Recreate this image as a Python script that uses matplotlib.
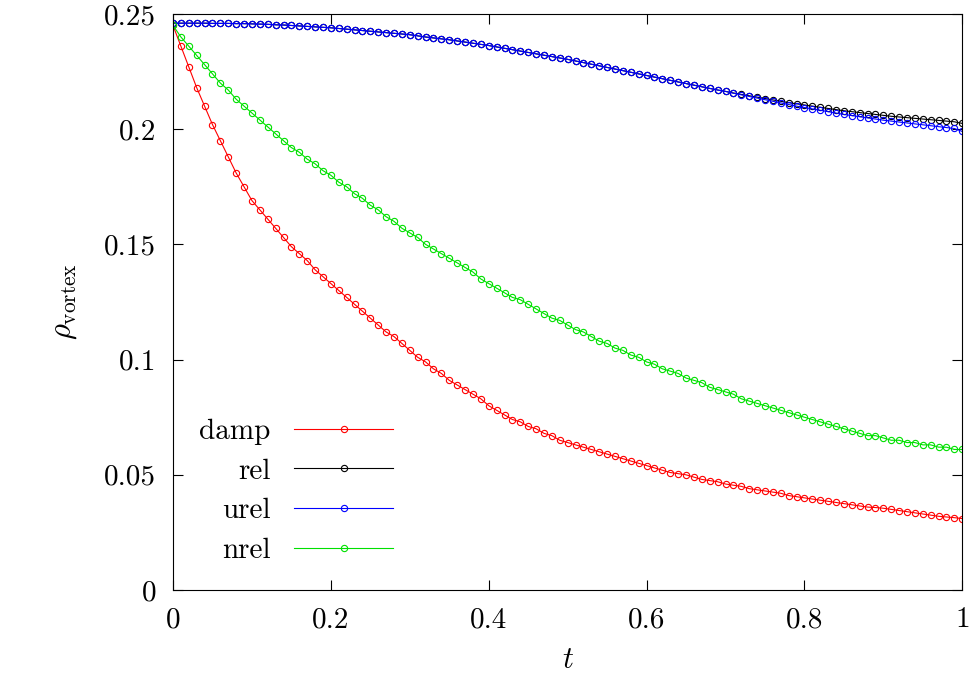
import matplotlib
matplotlib.use('Agg')
import matplotlib.pyplot as plt

plt.rcParams['font.family'] = 'cmr10'
plt.rcParams['mathtext.fontset'] = 'cm'
plt.rcParams['axes.formatter.use_mathtext'] = True

t = [i / 100 for i in range(101)]

damp = [0.245, 0.236, 0.227, 0.218, 0.210, 0.202, 0.195, 0.188, 0.181, 0.175, 0.169,
        0.165, 0.161, 0.157, 0.153, 0.149, 0.146, 0.143, 0.139, 0.136, 0.133,
        0.130, 0.127, 0.124, 0.121, 0.118, 0.115, 0.112, 0.110, 0.107, 0.104,
        0.101, 0.099, 0.096, 0.094, 0.091, 0.089, 0.087, 0.085, 0.083, 0.080,
        0.078, 0.076, 0.074, 0.073, 0.071, 0.070, 0.068, 0.067, 0.065, 0.064,
        0.063, 0.062, 0.061, 0.060, 0.059, 0.058, 0.057, 0.056, 0.055, 0.054,
        0.053, 0.052, 0.051, 0.0505, 0.050, 0.049, 0.048, 0.0475, 0.047, 0.046,
        0.0455, 0.045, 0.044, 0.0435, 0.043, 0.0425, 0.042, 0.041, 0.0405, 0.040,
        0.0395, 0.039, 0.0385, 0.038, 0.0375, 0.037, 0.0365, 0.036, 0.0358, 0.0355,
        0.035, 0.0345, 0.034, 0.0335, 0.033, 0.0325, 0.032, 0.0317, 0.0314, 0.031]

nrel = [0.245, 0.240, 0.236, 0.232, 0.228, 0.224, 0.220, 0.217, 0.213, 0.210, 0.207,
        0.204, 0.201, 0.198, 0.195, 0.192, 0.190, 0.187, 0.185, 0.182, 0.180,
        0.177, 0.175, 0.172, 0.170, 0.167, 0.165, 0.162, 0.160, 0.157, 0.155,
        0.153, 0.150, 0.148, 0.146, 0.144, 0.142, 0.140, 0.138, 0.135, 0.133,
        0.131, 0.129, 0.127, 0.126, 0.124, 0.122, 0.120, 0.118, 0.117, 0.115,
        0.113, 0.112, 0.110, 0.108, 0.107, 0.105, 0.104, 0.102, 0.101, 0.099,
        0.098, 0.096, 0.095, 0.094, 0.092, 0.091, 0.090, 0.088, 0.087, 0.086,
        0.085, 0.083, 0.082, 0.081, 0.080, 0.079, 0.078, 0.077, 0.076, 0.075,
        0.074, 0.073, 0.072, 0.071, 0.070, 0.069, 0.068, 0.067, 0.067, 0.066,
        0.065, 0.065, 0.064, 0.064, 0.063, 0.063, 0.062, 0.062, 0.061, 0.061]

rel = [0.2460, 0.2460, 0.2460, 0.2460, 0.2460, 0.2459, 0.2459, 0.2459, 0.2458, 0.2458, 0.2457,
       0.2456, 0.2455, 0.2453, 0.2452, 0.2450, 0.2448, 0.2446, 0.2444, 0.2442, 0.2440,
       0.2437, 0.2434, 0.2431, 0.2428, 0.2425, 0.2422, 0.2419, 0.2416, 0.2413, 0.2410,
       0.2405, 0.2400, 0.2396, 0.2392, 0.2388, 0.2383, 0.2378, 0.2373, 0.2368, 0.2363,
       0.2357, 0.2351, 0.2345, 0.2339, 0.2333, 0.2327, 0.2321, 0.2315, 0.2309, 0.2303,
       0.2296, 0.2289, 0.2282, 0.2275, 0.2268, 0.2261, 0.2254, 0.2247, 0.2240, 0.2233,
       0.2226, 0.2219, 0.2212, 0.2205, 0.2198, 0.2191, 0.2184, 0.2177, 0.2170, 0.2164,
       0.2157, 0.2151, 0.2145, 0.2139, 0.2133, 0.2127, 0.2121, 0.2115, 0.2110, 0.2105,
       0.2100, 0.2095, 0.2090, 0.2085, 0.2080, 0.2076, 0.2072, 0.2068, 0.2064, 0.2060,
       0.2056, 0.2053, 0.2050, 0.2047, 0.2044, 0.2041, 0.2038, 0.2035, 0.2032, 0.2025]

# urel follows rel up to t=0.7, then drops slightly below it
urel = rel[:71] + [
    0.2156, 0.2149, 0.2142, 0.2135, 0.2128, 0.2121, 0.2114, 0.2107, 0.2100, 0.2094,
    0.2088, 0.2082, 0.2076, 0.2070, 0.2064, 0.2059, 0.2054, 0.2049, 0.2044, 0.2039,
    0.2035, 0.2031, 0.2027, 0.2023, 0.2019, 0.2015, 0.2011, 0.2007, 0.2003, 0.1990]

SERIES = [('damp', damp, '#ff0000'), ('rel', rel, '#000000'),
          ('urel', urel, '#0000ff'), ('nrel', nrel, '#00e000')]

fig = plt.figure(figsize=(9.72, 6.88), dpi=100)
ax = fig.add_axes([0.178, 0.1424, 0.812, 0.8373])

for name, vals, col in SERIES:
    ax.plot(t, vals, color=col, lw=0.8, marker='o', ms=4.5, mfc='none',
            mec=col, mew=0.8, label=name)

ax.set_xlim(0, 1)
ax.set_ylim(0, 0.25)
ax.set_xticks([0, 0.2, 0.4, 0.6, 0.8, 1])
ax.set_xticklabels(['0', '0.2', '0.4', '0.6', '0.8', '1'])
ax.set_yticks([0, 0.05, 0.1, 0.15, 0.2, 0.25])
ax.set_yticklabels(['0', '0.05', '0.1', '0.15', '0.2', '0.25'])
ax.tick_params(direction='in', top=True, right=True, labelsize=21, length=7)
ax.tick_params(axis='x', pad=12)
ax.tick_params(axis='y', pad=12)
ax.set_xlabel(r'$t$', fontsize=22, labelpad=10)
ax.set_ylabel(r'$\rho_{\mathrm{vortex}}$', fontsize=22, labelpad=18)

ax.legend(loc='lower left', bbox_to_anchor=(0.0, 0.0), frameon=False,
          markerfirst=False, fontsize=21, handlelength=3.4, labelspacing=0.45)

fig.savefig('out.png', dpi=100, facecolor='white')
